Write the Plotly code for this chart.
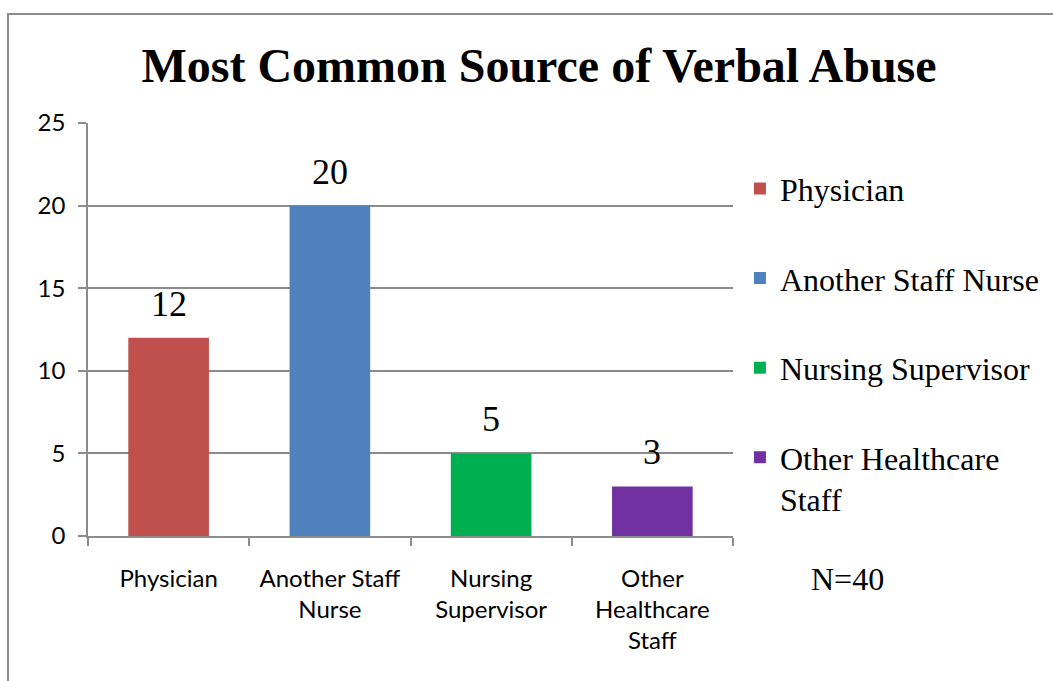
import plotly.graph_objects as go

categories = ["Physician", "Another Staff Nurse", "Nursing Supervisor", "Other Healthcare Staff"]
values = [12, 20, 5, 3]
colors = ["#C0504D", "#4F81BD", "#00B050", "#7030A0"]
tick_labels = ["Physician", "Another Staff<br>Nurse", "Nursing<br>Supervisor", "Other<br>Healthcare<br>Staff"]
legend_names = ["Physician", "Another Staff Nurse", "Nursing Supervisor", "Other Healthcare<br>Staff"]
y_ticks = [0, 5, 10, 15, 20, 25]
title_text = "Most Common Source of Verbal Abuse"
note_text = "N=40"

GRAY = "#8c8c8c"
SERIF = "Liberation Serif"
SANS = "Lato"

fig = go.Figure()
for cat, val, col, name in zip(categories, values, colors, legend_names):
    fig.add_trace(go.Bar(
        x=[cat], y=[val], name=name, marker_color=col,
        marker_line_width=0, legendgroup=cat, showlegend=True,
    ))
    fig.add_annotation(
        x=cat, y=val, xref="x", yref="y", text=str(val), showarrow=False,
        yanchor="bottom", yshift=12,
        font=dict(family=SERIF, size=36, color="black"),
    )

fig.add_annotation(
    x=(847-88)/645, y=(536-579)/413, xref="paper", yref="paper", text=note_text,
    showarrow=False, xanchor="center", yanchor="middle",
    font=dict(family=SERIF, size=32, color="black"),
)

fig.update_layout(
    width=1053, height=681,
    margin=dict(l=88, r=320, t=123, b=145, autoexpand=False),
    paper_bgcolor="white", plot_bgcolor="white",
    barmode="overlay", bargap=0.5,
    font=dict(family=SANS),
    title=dict(text=f"<b>{title_text}</b>", x=539/1053, xref="container", xanchor="center",
               y=1-65/681, yref="container", yanchor="middle",
               font=dict(family=SERIF, size=48, color="black")),
    legend=dict(x=1.003 + 5/645, xanchor="left", y=0.898 + 4/413, yanchor="top",
                font=dict(family=SERIF, size=32, color="black"),
                tracegroupgap=45, valign="top", bgcolor="rgba(0,0,0,0)",
                itemwidth=30),
    showlegend=True,
)

fig.update_xaxes(
    categoryorder="array", categoryarray=categories,
    tickvals=categories, ticktext=tick_labels,
    tickson="boundaries", ticks="outside", ticklen=8, tickcolor=GRAY, tickwidth=1.5,
    showline=True, linecolor=GRAY, linewidth=1.5,
    showgrid=False, ticklabelstandoff=20,
    tickfont=dict(family=SANS, size=24, color="black"),
    fixedrange=True,
)
fig.update_yaxes(
    range=[0, 25], tickvals=y_ticks,
    ticks="outside", ticklen=8, tickcolor=GRAY, tickwidth=1.5,
    showline=True, linecolor=GRAY, linewidth=1.5,
    showgrid=True, gridcolor=GRAY, gridwidth=1.5, zeroline=False,
    ticklabelstandoff=8,
    tickfont=dict(family=SANS, size=24, color="black"),
    fixedrange=True,
)

fig.add_shape(type="rect", xref="paper", yref="paper",
              x0=(8-88)/645, x1=(1070-88)/645, y0=(536-700)/413, y1=(536-14)/413,
              line=dict(color=GRAY, width=2), fillcolor="rgba(0,0,0,0)", layer="below")

fig.write_html("out.html", config={"displayModeBar": False},
               post_script="document.body.style.margin='0';document.body.style.overflow='hidden';")
